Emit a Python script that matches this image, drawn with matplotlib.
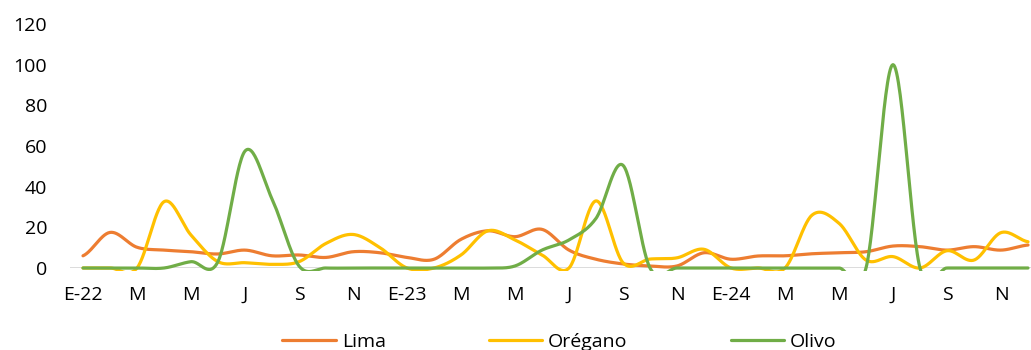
import matplotlib.pyplot as plt
from matplotlib.patches import Rectangle
import numpy as np

plt.rcParams['font.family'] = ['Open Sans', 'DejaVu Sans']

# meses ene-2022 .. dic-2024
tick_labels = ['E-22', 'M', 'M', 'J', 'S', 'N', 'E-23', 'M', 'M', 'J', 'S', 'N',
               'E-24', 'M', 'M', 'J', 'S', 'N']
lima = [6, 17.5, 10.2, 8.8, 8, 6.9, 8.8, 6, 6.4, 5.2, 8, 7.5,
        5.2, 4.3, 14.1, 18.3, 15.4, 19, 8.8, 4.3, 2, 1, 1, 7.5,
        4.3, 5.9, 6, 7, 7.5, 8, 10.8, 10.5, 8.8, 10.5, 8.8, 11.3]
oregano = [0, 0, 0, 32.6, 16.2, 3.1, 2.6, 1.8, 3.1, 12.1, 16.5, 10,
           0, 0, 6.4, 18.3, 13.8, 6.4, 0, 33, 2.6, 4.4, 5, 9.2,
           0, 0, 0, 26, 22, 3.9, 5.6, 0, 8.5, 3.9, 17.4, 12.9]
olivo = [0, 0, 0, 0, 3.1, 3.2, 57.5, 34, 1, 0, 0, 0,
         0, 0, 0, 0, 1, 8.8, 13.8, 24.4, 50.5, 0, 0, 0,
         0, 0, 0, 0, 0, 0, 100, 0, 0, 0, 0, 0]
series = [('Lima', lima, '#ED7D31'), ('Orégano', oregano, '#FFC000'), ('Olivo', olivo, '#70AD47')]


def smooth(y, n=30):
    # suavizado tipo Excel (Catmull-Rom)
    y = np.asarray(y, float)
    p = np.concatenate([[y[0]], y, [y[-1]]])
    xs, ys = [], []
    t = np.linspace(0, 1, n, endpoint=False)
    for i in range(len(y) - 1):
        p0, p1, p2, p3 = p[i], p[i + 1], p[i + 2], p[i + 3]
        c1 = p1 + (p2 - p0) / 6
        c2 = p2 - (p3 - p1) / 6
        b = (1 - t) ** 3 * p1 + 3 * (1 - t) ** 2 * t * c1 + 3 * (1 - t) * t ** 2 * c2 + t ** 3 * p2
        xs.append(i + t)
        ys.append(b)
    xs.append([len(y) - 1])
    ys.append([y[-1]])
    return np.concatenate(xs), np.concatenate(ys)


fig = plt.figure(figsize=(10.31, 3.5), dpi=100)
ax = fig.add_axes([69.5 / 1031, 82 / 350, 972 / 1031, 244 / 350])

ax.axhline(0, color='#D9D9D9', lw=1.3, zorder=1)
# el area de trazado recorta un poco por debajo de cero
clip = Rectangle((0, -3 / 244), 1, 1 + 6 / 244, transform=ax.transAxes,
                 facecolor='none', edgecolor='none')
ax.add_patch(clip)
for name, vals, col in series:
    xs, ys = smooth(vals)
    ln, = ax.plot(xs, ys, color=col, lw=2.3, label=name, zorder=3,
                  solid_capstyle='round')
    ln.set_clip_path(clip)

ax.set_xlim(-0.5, 35.5)
ax.set_ylim(0, 120)
ax.set_yticks(np.arange(0, 121, 20))
ax.set_xticks(np.arange(0, 36, 2))
ax.set_xticklabels(tick_labels)
ax.tick_params(axis='both', length=0, labelsize=14, colors='black')
ax.tick_params(axis='y', pad=16)
ax.tick_params(axis='x', pad=13)
for s in ax.spines.values():
    s.set_visible(False)

fig.legend(loc='center', bbox_to_anchor=(559.5 / 1031, 8.3 / 350), ncol=3,
           frameon=False, fontsize=14, handlelength=2.75, handletextpad=0.3,
           columnspacing=5.3, borderpad=0)

fig.savefig('out.png', dpi=100)
